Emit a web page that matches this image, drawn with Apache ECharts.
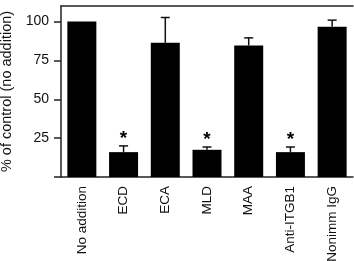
<!DOCTYPE html>
<html>
<head>
<meta charset="utf-8">
<script src="https://cdn.jsdelivr.net/npm/echarts@6/dist/echarts.min.js"></script>
<style>
  html, body { margin: 0; padding: 0; background: #fff; }
  #chart { width: 354px; height: 261px; }
</style>
</head>
<body>
<div id="chart"></div>
<script>
const categories = ['No addition', 'ECD', 'ECA', 'MLD', 'MAA', 'Anti-ITGB1', 'Nonimm IgG']
const values = [100, 16, 86.3, 17.5, 84.6, 16, 96.6]
const errors = [0, 4, 16.3, 1.8, 4.9, 3.3, 4.3]
const significant = [false, true, false, true, false, true, false]
const yTicks = [0, 25, 50, 75, 100]
const yLabels = [25, 50, 75, 100]

const font = "'Liberation Sans', Arial, sans-serif"
const axisColor = '#222'

const chart = echarts.init(document.getElementById('chart'))

const errorData = values.map((v, i) => [i, v, errors[i], significant[i] ? 1 : 0])

const option = {
  animation: false,
  grid: { left: 61, right: 1, top: 6, bottom: 84, outerBoundsMode: 'none' },
  xAxis: [
    {
      type: 'category',
      data: categories,
      axisLine: { lineStyle: { color: axisColor, width: 1.5 } },
      axisTick: { alignWithLabel: true, length: 6, lineStyle: { color: axisColor, width: 1.5 } },
      axisLabel: { rotate: 90, margin: 9, color: '#111', fontSize: 13.5, fontFamily: font }
    },
    {
      type: 'category',
      data: categories,
      position: 'top',
      axisLine: { lineStyle: { color: axisColor, width: 1.5 } },
      axisTick: { show: false },
      axisLabel: { show: false }
    }
  ],
  yAxis: {
    type: 'value',
    min: 0,
    max: 110,
    interval: 25,
    name: '% of control (no addition)',
    nameLocation: 'middle',
    nameGap: 43,
    nameTextStyle: { color: '#111', fontSize: 14.5, fontFamily: font },
    splitLine: { show: false },
    axisLine: { show: true, lineStyle: { color: axisColor, width: 1.5 } },
    axisTick: { show: true, length: 7, customValues: yTicks, lineStyle: { color: axisColor, width: 1.5 } },
    axisLabel: { margin: 12, customValues: yLabels, color: '#111', fontSize: 14, fontFamily: font }
  },
  series: [
    {
      type: 'bar',
      data: values,
      barWidth: 29,
      itemStyle: { color: '#000' }
    },
    {
      type: 'custom',
      data: errorData,
      z: 3,
      renderItem: (params, api) => {
        const i = api.value(0)
        const v = api.value(1)
        const e = api.value(2)
        const top = api.coord([i, v + e])
        const base = api.coord([i, v])
        const children = []
        if (e > 0) {
          children.push({
            type: 'line',
            shape: { x1: top[0], y1: base[1], x2: top[0], y2: top[1] },
            style: { stroke: '#111', lineWidth: 1.5 }
          })
          children.push({
            type: 'line',
            shape: { x1: top[0] - 4.5, y1: top[1], x2: top[0] + 4.5, y2: top[1] },
            style: { stroke: '#111', lineWidth: 1.5 }
          })
        }
        if (api.value(3)) {
          children.push({
            type: 'text',
            x: top[0],
            y: top[1] - 7,
            style: {
              text: '*',
              fill: '#000',
              font: 'bold 19px ' + font,
              align: 'center',
              verticalAlign: 'middle'
            }
          })
        }
        return { type: 'group', children }
      }
    }
  ]
}

chart.setOption(option)
</script>
</body>
</html>
